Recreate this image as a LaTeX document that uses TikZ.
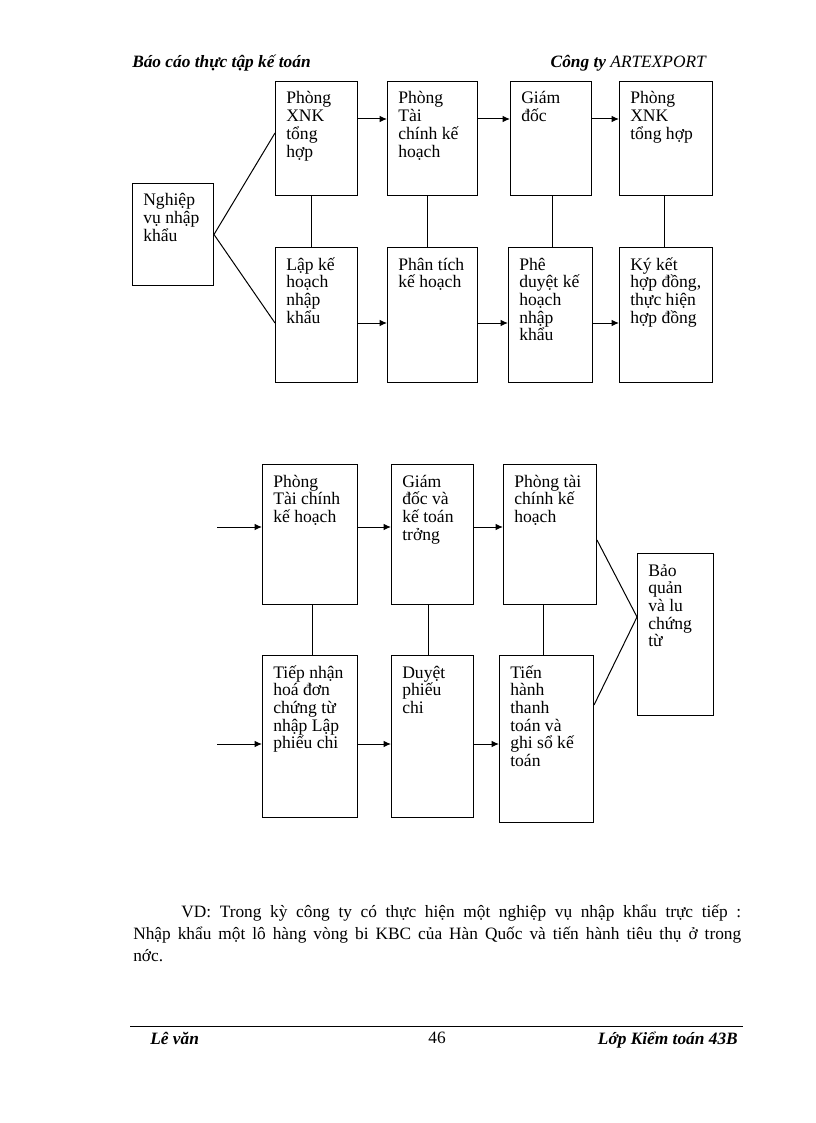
\documentclass[tikz,border=0pt]{standalone}
\usepackage{fontspec}
\setmainfont{Liberation Serif}
\usetikzlibrary{arrows.meta}
\tikzset{
  box/.style={draw, line width=0.75pt, anchor=north west, inner sep=0pt},
  txt/.style={anchor=base west, inner sep=0pt},
  arr/.style={line width=0.75pt, -{Latex[length=5.5pt,width=4.8pt]}},
  con/.style={line width=0.75pt},
  hdr/.style={inner sep=0pt, font=\fontsize{13}{15}\selectfont\bfseries\itshape},
}
\newcommand\bxtext[1]{\parbox[t]{110pt}{\fontsize{13.2}{13.3}\selectfont\raggedright #1}}
% \mybox{name}{x1}{y1}{x2}{y2}{text}
\newcommand\mybox[6]{%
  \node[box, minimum width={(#4-#2)*0.75pt}, minimum height={(#5-#3)*0.75pt}] (#1) at (#2,#3) {};
  \node[txt] (#1-t) at ([xshift=8.25pt,yshift=-17.25pt]#1.north west) {\bxtext{#6}};
}
\begin{document}
\begin{tikzpicture}[x=0.75pt,y=-0.75pt]
\useasboundingbox (0,0) rectangle (816,1123);
\fill[white] (0,0) rectangle (816,1123);

% header
\node[hdr, anchor=base west] (hl) at (132,68) {Báo cáo thực tập kế toán};
\node[hdr, anchor=base east] (hr) at (706,68) {Công ty \mdseries ARTEXPORT};

% ---------- top diagram ----------
\mybox{nv}{132}{183}{213}{285}{Nghiệp\\vụ nhập\\khẩu}
\mybox{xnka}{275}{81}{357}{195}{Phòng\\XNK\\tổng\\hợp}
\mybox{lap}{275}{247}{357}{382}{Lập kế\\hoạch\\nhập\\khẩu}
\mybox{tca}{387}{81}{477}{195}{Phòng\\Tài\\chính kế\\hoạch}
\mybox{pt}{387}{247}{477}{382}{Phân tích\\kế hoạch}
\mybox{gd}{510}{81}{591}{195}{Giám\\đốc}
\mybox{pd}{508}{247}{592}{382}{Phê\\duyệt kế\\hoạch\\nhập\\khẩu}
\mybox{xnkb}{619}{81}{712}{195}{Phòng\\XNK\\tổng hợp}
\mybox{kk}{619}{247}{712}{382}{Ký kết\\hợp đồng,\\thực hiện\\hợp đồng}

\coordinate (ra) at (0,119);
\coordinate (rb) at (0,323);
\coordinate (rl) at (0,133);
\coordinate (c1) at (311,0);
\coordinate (c2) at (427,0);
\coordinate (c3) at (552,0);
\coordinate (c4) at (664,0);

\draw[con] (nv.east) -- (xnka.west |- rl);
\draw[con] (nv.east) -- (lap.west |- rb);
\draw[arr] (xnka.east |- ra) -- (tca.west |- ra);
\draw[arr] (tca.east |- ra) -- (gd.west |- ra);
\draw[arr] (gd.east |- ra) -- (xnkb.west |- ra);
\draw[arr] (lap.east |- rb) -- (pt.west |- rb);
\draw[arr] (pt.east |- rb) -- (pd.west |- rb);
\draw[arr] (pd.east |- rb) -- (kk.west |- rb);
\draw[con] (xnka.south -| c1) -- (lap.north -| c1);
\draw[con] (tca.south -| c2) -- (pt.north -| c2);
\draw[con] (gd.south -| c3) -- (pd.north -| c3);
\draw[con] (xnkb.south -| c4) -- (kk.north -| c4);

% ---------- bottom diagram ----------
\mybox{tcb}{262}{464}{357}{604}{Phòng\\Tài chính\\kế hoạch}
\mybox{tn}{262}{655}{357}{817}{Tiếp nhận\\hoá đơn\\chứng từ\\nhập Lập\\phiếu chi}
\mybox{gdkt}{391}{464}{473}{604}{Giám\\đốc và\\kế toán\\trởng}
\mybox{dpc}{391}{655}{473}{817}{Duyệt\\phiếu\\chi}
\mybox{tcc}{503}{464}{596}{604}{Phòng tài\\chính kế\\hoạch}
\mybox{th}{499}{655}{593}{822}{Tiến\\hành\\thanh\\toán và\\ghi sổ kế\\toán}
\mybox{bq}{637}{553}{713}{715}{Bảo\\quản\\và lu\\chứng\\từ}

\coordinate (rc) at (0,527);
\coordinate (rd) at (0,744);
\coordinate (ina) at (217,527);
\coordinate (inb) at (217,744);
\coordinate (d1) at (312,0);
\coordinate (d2) at (428,0);
\coordinate (d3) at (543,0);
\coordinate (re) at (0,540);
\coordinate (rf) at (0,705);
\coordinate (rg) at (0,617);

\draw[arr] (ina) -- (tcb.west |- rc);
\draw[arr] (inb) -- (tn.west |- rd);
\draw[arr] (tcb.east |- rc) -- (gdkt.west |- rc);
\draw[arr] (gdkt.east |- rc) -- (tcc.west |- rc);
\draw[arr] (tn.east |- rd) -- (dpc.west |- rd);
\draw[arr] (dpc.east |- rd) -- (th.west |- rd);
\draw[con] (tcb.south -| d1) -- (tn.north -| d1);
\draw[con] (gdkt.south -| d2) -- (dpc.north -| d2);
\draw[con] (tcc.south -| d3) -- (th.north -| d3);
\draw[con] (tcc.east |- re) -- (bq.west |- rg);
\draw[con] (th.east |- rf) -- (bq.west |- rg);

% paragraph
\node[anchor=base west, inner sep=0pt] (para) at (133,917) {\parbox[t]{456pt}{\fontsize{13}{16.5}\selectfont\setlength{\parindent}{36pt}\indent VD: Trong kỳ công ty có thực hiện một nghiệp vụ nhập khẩu trực tiếp :\linebreak Nhập khẩu một lô hàng vòng bi KBC của Hàn Quốc và tiến hành tiêu thụ ở trong\linebreak nớc.}};

% footer
\coordinate (fl) at (130,1026);
\coordinate (fr) at (743,1026);
\draw[line width=0.75pt] (fl) -- (fr);
\node[hdr, anchor=base west] (fa) at (150,1044) {Lê văn};
\node[anchor=base, inner sep=0pt, font=\fontsize{13}{15}\selectfont] (fb) at (437,1043) {46};
\node[hdr, anchor=base east] (fc) at (738,1044) {Lớp Kiểm toán 43B};
\end{tikzpicture}
\end{document}
